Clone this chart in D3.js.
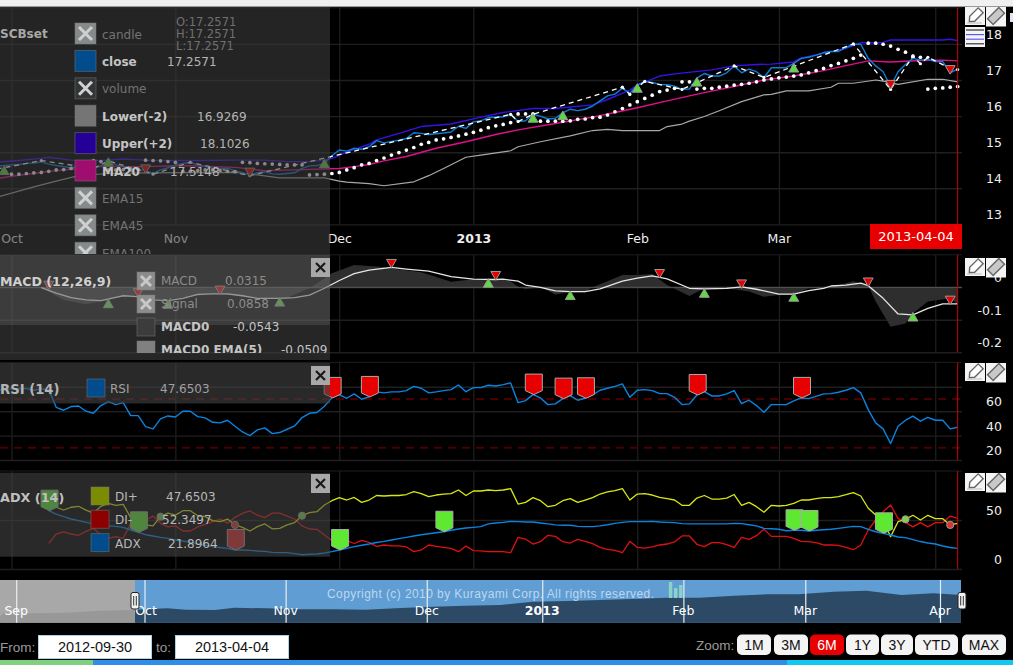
<!DOCTYPE html>
<html>
<head>
<meta charset="utf-8">
<title>SCBset</title>
<script src="https://cdn.jsdelivr.net/npm/d3@7"></script>
<style>
  html, body { margin: 0; padding: 0; background: #000; overflow: hidden; }
  svg { display: block; }
  text { font-family: "DejaVu Sans", sans-serif; font-size: 12px; }
  .tick text { fill: #eee; }
  .ui text { font-family: "Liberation Sans", sans-serif; }
</style>
</head>
<body>
<svg id="chart" width="1013" height="665"></svg>
<script>
// sessions are counted from 1 Oct 2012 = 0
const monthDays = [0, 22, 44, 62, 84, 103, 124];
const monthLabels = ["Oct", "Nov", "Dec", "2013", "Feb", "Mar", ""]; // Apr sits behind the date box

// price panel, one value per session starting at session -2
const close = [14.62,14.63,14.65,14.66,14.69,14.70,14.73,14.67,14.63,14.60,14.57,14.60,14.55,14.55,14.63,14.74,14.65,14.60,14.55,14.53,14.49,14.41,14.51,14.57,14.65,14.69,14.72,14.65,14.60,14.57,14.55,14.55,14.49,14.43,14.37,14.43,14.46,14.40,14.39,14.41,14.43,14.55,14.62,14.63,14.69,14.90,15.06,15.03,15.11,15.08,15.15,15.32,15.26,15.30,15.33,15.38,15.54,15.52,15.49,15.51,15.53,15.56,15.72,15.66,15.84,15.87,15.96,15.97,15.98,16.05,15.85,15.87,16.05,16.00,15.92,15.94,16.09,16.19,16.15,16.19,16.28,16.42,16.56,16.61,16.77,16.63,16.86,16.96,16.93,16.88,16.87,16.83,16.74,16.75,17.05,17.18,17.11,17.11,17.20,17.39,17.20,17.30,17.23,17.07,17.34,17.34,17.34,17.46,17.60,17.63,17.69,17.76,17.79,17.79,17.90,17.99,17.99,17.60,17.39,17.23,16.82,17.23,17.43,17.60,17.55,17.57,17.51,17.51,17.20,17.30];

const upperDays = [-2,1,4,5,8,12,15,18,21,25,30,34,37,40,42,43,45,48,49,52,55,59,63,66,70,73,78,80,83,84,87,89,94,97,100,102,105,106,110,112,114,117,118,125,126,127];
const upper = [14.72,14.77,14.83,14.86,14.78,14.77,14.81,14.78,14.77,14.77,14.78,14.78,14.74,14.74,14.78,14.83,15.0,15.22,15.34,15.52,15.71,15.78,15.97,16.10,16.21,16.21,16.31,16.46,16.72,16.86,17.11,17.17,17.28,17.39,17.43,17.44,17.50,17.61,17.78,17.88,18.03,18.04,18.11,18.11,18.13,18.09];

const maDays = [-2,1,3,5,9,12,18,23,30,34,38,44,46,48,50,53,57,61,65,68,74,78,81,84,88,91,93,97,101,105,109,112,115,118,122,125,127];
const ma20 = [14.27,14.36,14.41,14.47,14.55,14.60,14.60,14.63,14.58,14.49,14.51,14.55,14.60,14.66,14.76,14.88,15.11,15.29,15.49,15.62,15.83,15.97,16.10,16.23,16.42,16.56,16.65,16.82,17.00,17.11,17.26,17.40,17.53,17.50,17.54,17.55,17.53];

const lowerDays = [-2,3,6,9,13,18,30,33,36,42,44,45,48,50,54,56,58,61,63,67,68,71,75,78,80,82,87,88,90,91,93,95,98,101,102,104,107,110,111,113,116,117,119,123,125,127];
const lower = [13.75,14.04,14.20,14.35,14.41,14.43,14.44,14.37,14.29,14.29,14.20,14.17,14.13,14.07,14.18,14.35,14.55,14.86,14.92,15.04,15.15,15.29,15.45,15.60,15.63,15.60,15.60,15.71,15.78,15.86,15.99,16.15,16.40,16.59,16.60,16.70,16.70,16.80,16.91,16.91,17.00,16.97,16.88,17.02,17.02,16.95];

const zigzagDays = [-2,4,11,13,19,24,32,67,68,70,82,83,85,90,97,101,113,118,121,122,123,126,127];
const zigzag = [14.53,14.77,14.55,14.76,14.39,14.72,14.35,16.05,15.85,16.05,16.80,16.60,16.96,16.74,17.39,17.07,18.00,16.74,17.66,17.45,17.63,17.32,17.29];

const sarDays = [0,1,2,3,4,5,6,7,8,9,10,11,12,13,14,15,16,17,18,19,20,21,22,23,24,25,26,27,28,29,30,31,32,33,34,35,36,37,38,39,40,41,42,43,44,45,46,47,48,49,50,51,52,53,54,55,56,57,58,59,60,61,62,63,64,65,66,67,68,69,70,71,72,73,74,75,76,77,78,79,80,81,82,83,84,85,86,87,88,89,90,91,92,93,94,95,96,97,98,99,100,101,102,103,104,105,106,107,108,109,110,111,112,113,114,115,116,117,118,119,120,121,122,123,124,125,126,127];
const sar = [14.39,14.39,14.41,14.43,14.44,14.47,14.51,14.52,14.55,14.55,14.55,14.77,14.74,14.51,14.51,14.52,14.51,14.53,14.78,14.77,14.76,14.74,14.72,14.47,14.47,14.49,14.51,14.51,14.49,14.47,14.46,14.72,14.71,14.69,14.68,14.67,14.66,14.65,14.65,14.65,14.37,14.38,14.39,14.41,14.44,14.51,14.57,14.65,14.69,14.77,14.84,14.92,14.99,15.06,15.13,15.22,15.27,15.34,15.37,15.41,15.45,15.50,15.55,15.61,15.68,15.73,15.77,15.82,16.06,16.06,16.06,15.86,15.86,15.86,15.86,15.87,15.91,15.92,15.96,15.97,16.03,16.12,16.21,16.31,16.40,16.49,16.58,16.68,16.72,16.77,16.95,16.95,16.75,16.77,16.77,16.80,16.83,16.86,16.88,16.91,16.95,17.00,17.03,17.06,17.08,17.11,17.14,17.20,17.26,17.32,17.40,17.46,17.53,17.60,17.69,18.02,18.02,17.99,17.94,17.85,17.77,17.66,17.63,16.75,16.77,16.78,16.80,16.82];

const buyDays = [-1,13,42,70,74,84,92,105];
const buyPrices = [14.46,14.69,14.65,15.91,15.98,16.74,16.91,17.30];
const sellDays = [18,32,118,126];
const sellPrices = [14.57,14.48,16.91,17.32];

// MACD panel
const macdDays = [4,6,8,10,12,14,15,17,19,21,23,25,27,29,31,33,36,38,40,42,44,46,48,51,53,56,59,62,65,66,68,69,71,73,75,77,79,82,84,86,88,91,93,96,98,100,103,105,107,109,110,112,114,115,117,119,121,123,125,127];
const macd = [-0.001,-0.018,-0.032,-0.039,-0.041,-0.031,-0.026,-0.029,-0.039,-0.041,-0.034,-0.022,-0.020,-0.020,-0.026,-0.034,-0.034,-0.032,-0.024,-0.003,0.021,0.042,0.053,0.061,0.056,0.050,0.033,0.025,0.024,0.025,0.019,0.007,0,-0.011,-0.013,-0.013,-0.005,0.019,0.028,0.035,0.026,-0.003,-0.005,-0.003,0.001,-0.006,-0.021,-0.021,-0.010,-0.003,0.004,0.007,0.013,0.005,-0.034,-0.082,-0.085,-0.065,-0.051,-0.051];
const macd0Days = [4,7,10,13,15,17,19,23,27,30,34,37,40,43,46,49,55,59,62,65,67,68,69,71,73,75,77,78,80,82,84,86,88,91,93,96,99,101,103,105,107,110,113,115,116,118,120,121,123,126,127];
const macd0 = [-0.001,-0.039,-0.052,-0.039,-0.027,-0.024,-0.039,-0.032,-0.020,-0.026,-0.034,-0.032,-0.003,0.043,0.069,0.064,0.046,0.017,0.025,0.026,0.019,0.002,-0.006,0,-0.022,-0.015,-0.015,0,0.019,0.038,0.038,0.041,0.007,-0.027,-0.003,-0.003,-0.013,-0.029,-0.024,-0.022,-0.003,0,0.019,0.005,-0.044,-0.121,-0.111,-0.080,-0.044,-0.034,-0.051];
const macdUpDays = [13,21,36,64,75,93,105,121];
const macdUpValues = [-0.054,-0.056,-0.049,0.009,-0.029,-0.022,-0.034,-0.095];
const macdDownDays = [5,17,28,51,65,87,98,115,126];
const macdDownValues = [0.010,-0.013,-0.005,0.077,0.040,0.046,0.014,0.020,-0.036];

// RSI panel, one value per session starting at session -2
const rsi = [77.5,77.7,78.3,78.5,78.5,77.2,78.3,77.7,63.2,60.8,63.8,64.3,60,58.3,64.6,67.9,65.4,67,56.4,56.4,47.4,45.5,53.7,56.1,55.3,60,60,55.6,54.5,50.9,50.4,52.6,47.7,43,40,44.7,46.3,41.6,42.5,45.2,47.9,54.8,58.3,58.9,64,70.9,73.6,70.6,74.2,69.8,71.7,75.8,75,75.8,75.8,76.9,80.4,78.8,75,75.8,76.9,77.7,81.5,76,79.3,79.3,81.3,80.7,81.8,83.2,67,68.7,73.6,70.9,65.4,66,70.3,72.8,69,70.6,73.3,77.2,78.8,80.4,82.4,71.4,77.2,77.7,76.9,74.4,74.4,71.4,65.4,66,73.3,76.1,72.5,72.5,74.2,76.9,66.2,69,64.6,59.1,65.4,65.4,65.4,68.4,70.9,70.3,72.2,74.2,74.4,75.5,77.2,79.3,75,61.3,50.4,45.5,33.5,47.7,52.6,55.9,51.8,55,52.6,52.6,45.5,46.8];
const rsiStart = -2;
const rsiFlagDays = [43,48,70,74,77,92,106];

// ADX panel, one value per session starting at session 5
const diPlus = [64,63,60.2,63,64,60,57,64,67,65,66,52.4,52.4,45,44,53.4,57,55,59.5,59.5,54.4,53.4,49.3,48.3,51,45,42.5,38.8,43.2,46,41,41.5,45,47.3,54.4,57.5,58.5,65.3,69.7,72.8,70.4,73,68,70.4,75,74.5,75,75,76,79,77,73.8,75.5,76.5,77,80.6,75,79.6,79.6,80.6,80,80.6,82,66.3,68,72.8,69.7,63.6,65,69.7,71.8,68,70.4,72.8,76.5,78.6,80,82,70.4,76.5,77,75.5,73,71.8,70.4,65,65,72.4,75,71.4,71.4,72.4,76,65,68,63.6,58,65,64.3,65,67,70.4,70.4,71.8,72.8,72.8,73.8,75.8,78,74.5,62,55,50,33,48.3,50.7,54.8,50,54.8,51.4,51.4,45,46.6];
const diMinus = [26.2,35.7,38,35.7,34.4,38.4,41.5,34.7,31.3,33,31.3,46.6,45,50,54,46.6,43,44,38.8,38.8,43,45.6,48.3,51,46.6,52.7,56.8,59.2,55,52.4,57,57,54,51,44,40.8,40.5,34.7,29,28,29,26,29.3,27.2,23,24.5,23.5,23.5,22.5,17.7,19.4,24.5,23,22,21,17.7,23.5,18.7,18.4,17.7,17.7,17.7,16.7,32.3,30.6,25.5,27.9,34.4,33.3,27.9,26.5,30.3,28.2,25.9,22,20,19,16.7,28.2,22,21.4,22.5,24.5,25.5,27.6,33.7,33.7,25.2,22.8,26.9,26.9,24.8,22,32.3,30.3,34,40.5,33.3,33.3,33.3,31.3,28.2,27.9,26.9,24.5,24.5,24.2,22,19.7,24.5,39.8,50,58.5,65.3,51.7,47.6,43,47.3,43,47.3,47.3,54,51.7];
const adx = [59.5,56,53.4,51,49.3,47.6,46,44.6,44,43.5,42.5,39.8,37.4,35,33.7,32.3,31.3,29.6,28.6,27.2,25.5,24.2,22.8,22,21,19.4,19.4,19,18.4,18,17,16.7,16.7,15.7,14.6,15,15.3,16.3,17.7,19.4,21,22.8,24.2,25.5,27,28.2,29.6,31,32.3,33.7,35,36,37,38,39.5,40.8,41.8,42.5,43.2,46,47,47.6,48.6,48.3,48,48,47,46,45,44.6,44.6,43.5,43.2,43.2,44,45.2,46.6,47.6,48.3,48.3,48.3,48.6,48,47.6,47.3,46.3,46,46,46,46,46,46,46.6,46.3,45.2,44,41.5,41,40.5,39,39.5,39.5,38.8,39.5,40,40.5,41.5,42.5,43.5,43.2,40.5,38,36.4,34.7,32.7,32,30,28,26.5,25.5,23.5,22,21];
const adxStart = 5;
const adxGreenFlagDays = [5,17,44,58,105,107,117];
const adxRedFlagDays = [30];
const crossUpDays = [20,39,120];
const crossDownDays = [30,117,126];

// navigator, overview of the close since September
const navDays = [-22.5,-22,-17,-12,-7,-2,3.5,6.5,11,14,19,24,29.5,34.5,40,45,50,55.5,60.5,66,71,76,81.5,86.5,92,97,102,107.5,112.5,118,123,127.5];
const navClose = [13.03,13.68,13.68,13.82,14.2,14.34,14.67,14.4,14.34,14.8,14.67,14.47,14.47,14.4,14.74,15,15.2,15.33,15.99,16.12,16.3,16.5,16.77,16.77,17.17,17.43,17.43,17.96,18.15,17.3,17.63,17.3];
const navMonthDays = [-20, 0, 22, 44, 62, 84, 103, 124];
const navMonthLabels = ["Sep", "Oct", "Nov", "Dec", "2013", "Feb", "Mar", "Apr"];
const navVolDays = [82, 82.8, 83.6];
const navVol = [16, 10, 13];

// legend texts
const priceLegendNames = ["candle", "close", "volume", "Lower(-2)", "Upper(+2)", "MA20", "EMA15", "EMA45", "EMA100"];
const priceLegendValues = ["", "17.2571", "", "16.9269", "18.1026", "17.5148", "", "", ""];
const ohlcLines = ["O:17.2571", "H:17.2571", "L:17.2571"];
const macdLegendNames = ["MACD", "Signal", "MACD0", "MACD0 EMA(5)"];
const macdLegendValues = ["0.0315", "0.0858", "-0.0543", "-0.0509"];
const adxLegendNames = ["DI+", "DI-", "ADX"];
const adxLegendValues = ["47.6503", "52.3497", "21.8964"];
const rangeButtons = ["1M", "3M", "6M", "1Y", "3Y", "YTD", "MAX"];

const svg = d3.select("#chart");
const plotRight = 962;
const lastDay = 127;

const x = d3.scaleLinear().domain([0, 127]).range([11.5, 957.65]);
const yPrice = d3.scaleLinear().domain([13, 19]).range([224.4, 7.8]);
const yMacd = d3.scaleLinear().domain([-0.2, 0.1]).range([352.3, 254.8]);
const yRsi = d3.scaleLinear().domain([20, 100]).range([460, 362.4]);
const yAdx = d3.scaleLinear().domain([0, 100]).range([569, 471]);
const xNav = d3.scaleLinear().domain([0, 124]).range([144.5, 940]);
const yNav = d3.scaleLinear().domain([11.84, 20.26]).range([622.7, 580]);
const yNavVol = d3.scaleLinear().domain([0, 16]).range([598, 582]);

const gridColor = "#1f1f1f";

svg.append("rect").attr("width", 1013).attr("height", 665).attr("fill", "#000");

// grid + right axis for one panel
function drawGrid(scale, ticks, fmt) {
  const g = svg.append("g");
  const top = scale.range()[1], bottom = scale.range()[0];

  const v = g.append("g").attr("transform", `translate(0,${bottom})`)
    .call(d3.axisBottom(x).tickValues(monthDays).tickSize(bottom - top)
      .tickFormat(""));
  v.selectAll("line").attr("y2", -(bottom - top)).attr("stroke", "#262626");
  v.select(".domain").remove();

  const h = g.append("g").attr("transform", `translate(${plotRight},0)`)
    .call(d3.axisRight(scale).tickValues(ticks).tickSize(-plotRight).tickFormat(fmt));
  h.select(".domain").remove();
  h.selectAll("line").attr("stroke", gridColor).attr("stroke-width", 1.4);
  h.selectAll("text").attr("x", 40).attr("y", -9.5).attr("text-anchor", "end")
    .style("font-size", "12.5px");

  g.append("line").attr("x1", 0).attr("x2", plotRight).attr("y1", top).attr("y2", top)
    .attr("stroke", "#1f1f1f");
  return g;
}

drawGrid(yPrice, [13, 14, 15, 16, 17, 18], d3.format("d"));
drawGrid(yMacd, [-0.2, -0.1, 0], d => d === 0 ? "0" : d3.format(".1f")(d).replace("\u2212", "-"));
drawGrid(yRsi, [20, 40, 60, 80], d3.format("d"));
drawGrid(yAdx, [0, 50], d3.format("d"));

// month labels under the price panel
const monthAxis = svg.append("g").attr("transform", "translate(0,224.4)")
  .call(d3.axisBottom(x).tickValues(monthDays).tickSize(0).tickPadding(9.5)
    .tickFormat((d, i) => monthLabels[i]));
monthAxis.select(".domain").remove();
monthAxis.selectAll("text").style("font-size", "12.5px")
  .style("font-weight", (d, i) => monthLabels[i] === "2013" ? "bold" : "normal");

function lineOf(xs, ys, scale, color, width, dash) {
  const line = d3.line().x((d, i) => x(xs[i])).y(d => scale(d));
  return svg.append("path").attr("d", line(ys)).attr("fill", "none")
    .attr("stroke", color).attr("stroke-width", width)
    .attr("stroke-linejoin", "round").attr("stroke-dasharray", dash || null);
}
const daysFrom = (start, arr) => arr.map((_, i) => start + i);

// price series
lineOf(lowerDays, lower, yPrice, "#a8a8a8", 1.2);
lineOf(maDays, ma20, yPrice, "#e0108c", 1.4);
lineOf(upperDays, upper, yPrice, "#3a10e8", 1.4);
lineOf(daysFrom(-2, close), close, yPrice, "#0a7fd8", 1.4);
lineOf(zigzagDays, zigzag, yPrice, "#fff", 1.3, "5,4");
svg.append("g").selectAll("circle").data(zigzag).join("circle")
  .attr("cx", (d, i) => x(zigzagDays[i])).attr("cy", d => yPrice(d)).attr("r", 1.6).attr("fill", "#fff");
svg.append("g").selectAll("circle").data(sar).join("circle")
  .attr("cx", (d, i) => x(sarDays[i])).attr("cy", d => yPrice(d)).attr("r", 1.85).attr("fill", "#fff");

const triangle = d3.symbol(d3.symbolTriangle, 42);
function triangles(days, values, scale, up) {
  svg.append("g").selectAll("path").data(values).join("path")
    .attr("d", triangle)
    .attr("transform", (d, i) => `translate(${x(days[i])},${scale(d)}) rotate(${up ? 0 : 180})`)
    .attr("fill", up ? "#5cdc3c" : "#e80000")
    .attr("stroke", "#9a9a9a").attr("stroke-width", 1);
}
triangles(buyDays, buyPrices, yPrice, true);
triangles(sellDays, sellPrices, yPrice, false);

// MACD series
const macdArea = d3.area().x((d, i) => x(macd0Days[i])).y0(yMacd(0)).y1(d => yMacd(d));
svg.append("path").attr("d", macdArea(macd0)).attr("fill", "#2e2e2e");
svg.append("line").attr("x1", 0).attr("x2", plotRight).attr("y1", yMacd(0)).attr("y2", yMacd(0))
  .attr("stroke", "#5a5a5a").attr("stroke-width", 1);
lineOf(macdDays, macd, yMacd, "#e6e6e6", 1.3);
triangles(macdUpDays, macdUpValues, yMacd, true);
triangles(macdDownDays, macdDownValues, yMacd, false);

// RSI series
[30, 70].forEach(level => {
  svg.append("line").attr("x1", 0).attr("x2", plotRight)
    .attr("y1", yRsi(level)).attr("y2", yRsi(level))
    .attr("stroke", "#4a0000").attr("stroke-width", 2).attr("stroke-dasharray", "8,6");
});
lineOf(daysFrom(rsiStart, rsi), rsi, yRsi, "#0a84e0", 1.4);

function flags(days, yAt, fill) {
  svg.append("g").selectAll("path").data(days).join("path")
    .attr("d", "M0,0L-8.5,-4V-20.5H8.5V-4Z")
    .attr("transform", d => `translate(${x(d) + 0.8},${yAt(d)})`)
    .attr("fill", fill).attr("stroke", "#aaa").attr("stroke-width", 1);
}
flags(rsiFlagDays, d => yRsi(rsi[d - rsiStart]), "#e80000");

// ADX series
lineOf(daysFrom(adxStart, diMinus), diMinus, yAdx, "#e01010", 1.3);
lineOf(daysFrom(adxStart, diPlus), diPlus, yAdx, "#d8e810", 1.3);
lineOf(daysFrom(adxStart, adx), adx, yAdx, "#0a84e0", 1.4);
function crossDots(days, fill) {
  svg.append("g").selectAll("circle").data(days).join("circle")
    .attr("cx", d => x(d)).attr("cy", d => yAdx(diPlus[d - adxStart])).attr("r", 3.6)
    .attr("fill", fill).attr("stroke", "#999");
}
crossDots(crossUpDays, "#7ed050");
crossDots(crossDownDays, "#e03030");
flags(adxGreenFlagDays, d => yAdx(adx[d - adxStart]), "#5ee832");
flags(adxRedFlagDays, d => yAdx(adx[d - adxStart]), "#d82828");

// cursor line at the last session
[yPrice, yMacd, yRsi, yAdx].forEach(s => {
  svg.append("line").attr("x1", x(lastDay)).attr("x2", x(lastDay))
    .attr("y1", s.range()[1]).attr("y2", s.range()[0])
    .attr("stroke", "#d00000").attr("stroke-width", 1);
});
svg.append("rect").attr("x", 870).attr("y", 224).attr("width", 92).attr("height", 25).attr("fill", "#e80000");
svg.append("text").attr("x", 916).attr("y", 241).attr("text-anchor", "middle")
  .attr("fill", "#fff").style("font-size", "13px").text("2013-04-04");

// translucent legend panels over the plots
function overlay(y, h, fill) {
  svg.append("rect").attr("x", 0).attr("y", y).attr("width", 330).attr("height", h).attr("fill", fill);
}
overlay(7, 248, "rgba(60,60,60,0.6)");
overlay(255, 70, "rgba(100,100,100,0.6)");
overlay(325, 35, "rgba(64,64,64,0.6)");
overlay(363, 40.5, "rgba(68,68,68,0.6)");
overlay(472.7, 84, "rgba(68,68,68,0.6)");

svg.append("clipPath").attr("id", "priceClip").append("rect").attr("width", 330).attr("height", 254);
svg.append("clipPath").attr("id", "macdClip").append("rect").attr("y", 255).attr("width", 330).attr("height", 98);

function swatch(g, bx, by, size, fill, crossed, crossColor) {
  g.append("rect").attr("x", bx).attr("y", by).attr("width", size).attr("height", size)
    .attr("fill", fill).attr("stroke", "rgba(120,120,120,0.5)");
  if (crossed) {
    const p = 4;
    g.append("path")
      .attr("d", `M${bx + p},${by + p}L${bx + size - p},${by + size - p}M${bx + size - p},${by + p}L${bx + p},${by + size - p}`)
      .attr("stroke", crossColor).attr("stroke-width", 3);
  }
}
function label(g, tx, ty, str, color, weight, size) {
  return g.append("text").attr("x", tx).attr("y", ty).attr("fill", color)
    .style("font-weight", weight || "normal").style("font-size", size || null).text(str);
}

// price legend
const priceLegend = svg.append("g").attr("clip-path", "url(#priceClip)");
label(priceLegend, 0, 38, "SCBset", "#a8a8a8", "bold");
const priceFills = ["#858a8a", "#004c8c", "#333636", "#757575", "#240096", "#a00d6e", "#858a8a", "#858a8a", "#858a8a"];
const priceCrossed = [true, false, true, false, false, false, true, true, true];
const priceValueX = [0, 167, 0, 197, 200, 170, 0, 0, 0];
priceLegendNames.forEach((name, i) => {
  const cy = 34 + i * 27.4;
  swatch(priceLegend, 75, cy - 11, 21, priceFills[i], priceCrossed[i], "#d0d0d0");
  label(priceLegend, 102, cy + 4.5, name, priceCrossed[i] ? "#737373" : "#c4c4c4", priceCrossed[i] ? "normal" : "bold");
  if (priceLegendValues[i]) label(priceLegend, priceValueX[i], cy + 4.5, priceLegendValues[i], "#b4b4b4");
});
ohlcLines.forEach((t, i) => label(priceLegend, 176, 26 + i * 12, t, "#707070", "normal", "11.5px"));

// MACD legend
const macdLegend = svg.append("g").attr("clip-path", "url(#macdClip)");
label(macdLegend, 0, 286, "MACD (12,26,9)", "#d0d0d0", "bold", "12.6px");
const macdFills = ["#8c8c8c", "#8c8c8c", "#3c3c3c", "#808080"];
const macdValueX = [225, 227, 233, 281];
macdLegendNames.forEach((name, i) => {
  const cy = 281 + i * 23;
  swatch(macdLegend, 137, cy - 9, 18, macdFills[i], i < 2, "#c8c8c8");
  label(macdLegend, 161, cy + 4, name, i < 2 ? "#8c8c8c" : "#c4c4c4", i < 2 ? "normal" : "bold");
  label(macdLegend, macdValueX[i], cy + 4, macdLegendValues[i], i < 2 ? "#8c8c8c" : "#c4c4c4");
});

// RSI legend
const rsiLegend = svg.append("g");
label(rsiLegend, 0, 394, "RSI (14)", "#b4b4b4", "bold", "13.2px");
swatch(rsiLegend, 87, 379, 18, "#004c8c");
label(rsiLegend, 110, 393, "RSI", "#a0a0a0");
label(rsiLegend, 160, 393, "47.6503", "#a0a0a0");

// ADX legend
const adxLegendG = svg.append("g");
label(adxLegendG, 0, 502, "ADX (14)", "#c0c0c0", "bold", "12.8px");
const adxFills = ["#7c8c00", "#8c0000", "#004c8c"];
const adxValueX = [166, 162, 168];
adxLegendNames.forEach((name, i) => {
  const cy = 496 + i * 23.3;
  swatch(adxLegendG, 91, cy - 9, 18, adxFills[i]);
  label(adxLegendG, 115, cy + 5, name, "#b8b8b8");
  label(adxLegendG, adxValueX[i], cy + 5, adxLegendValues[i], "#b8b8b8");
});

// close buttons on the legends
[258, 366, 474].forEach(by => {
  svg.append("rect").attr("x", 311).attr("y", by).attr("width", 19).attr("height", 19).attr("fill", "#a8a8a8");
  svg.append("path")
    .attr("d", `M316,${by + 5}L325,${by + 14}M325,${by + 5}L316,${by + 14}`)
    .attr("stroke", "#1a1a1a").attr("stroke-width", 2.2);
});

// pencil / eraser buttons on the right
function toolIcon(bx, by, h, eraser) {
  svg.append("rect").attr("x", bx).attr("y", by).attr("width", 20).attr("height", h).attr("fill", "#f4f4f4");
  const g = svg.append("g").attr("transform", `translate(${bx + 10},${by + 9}) rotate(-45)`);
  g.append("path").attr("d", eraser ? "M-8,-4H8V4H-8Z" : "M-8,0L-4,-3.5H8V3.5H-4Z")
    .attr("fill", eraser ? "#c8c8c8" : "#fff").attr("stroke", "#666").attr("stroke-width", 1.4);
  if (!eraser) svg.append("line").attr("x1", bx + 2).attr("x2", bx + 17).attr("y1", by + h - 2).attr("y2", by + h - 2)
    .attr("stroke", "#bbb");
}
[7, 258, 363, 473].forEach(by => {
  toolIcon(965, by, 18, false);
  toolIcon(986, by, 19.5, true);
});
svg.append("rect").attr("x", 965).attr("y", 27).attr("width", 20).attr("height", 20).attr("fill", "#f4f4f4");
["#333", "#5a5af0", "#5a5af0", "#333"].forEach((c, i) => {
  svg.append("line").attr("x1", 966).attr("x2", 984)
    .attr("y1", 30 + i * 4.6).attr("y2", 30 + i * 4.6).attr("stroke", c).attr("stroke-width", 1.2);
});
svg.append("rect").attr("x", 1010).attr("y", 13).attr("width", 3).attr("height", 9).attr("fill", "#dde6f4");

// navigator
const nav = svg.append("g");
nav.append("rect").attr("x", 0).attr("y", 580).attr("width", 135).attr("height", 42.7).attr("fill", "#a8a8a8");
nav.append("rect").attr("x", 135).attr("y", 580).attr("width", 826).attr("height", 42.7).attr("fill", "#5f9dd2");
const navArea = d3.area().x((d, i) => xNav(navDays[i])).y0(622.7).y1(d => yNav(d));
nav.append("clipPath").attr("id", "navGrey").append("rect").attr("x", 0).attr("y", 580).attr("width", 135).attr("height", 43);
nav.append("clipPath").attr("id", "navBlue").append("rect").attr("x", 135).attr("y", 580).attr("width", 826).attr("height", 43);
nav.append("path").attr("d", navArea(navClose)).attr("fill", "#989898").attr("clip-path", "url(#navGrey)");
nav.append("path").attr("d", navArea(navClose)).attr("fill", "#2c4a66").attr("clip-path", "url(#navBlue)");
nav.append("g").selectAll("rect").data(navVol).join("rect")
  .attr("x", (d, i) => xNav(navVolDays[i]) - 1.7).attr("width", 3.4)
  .attr("y", d => yNavVol(d)).attr("height", d => yNavVol(0) - yNavVol(d))
  .attr("fill", "#8fd0c8");
nav.append("text").attr("x", 327).attr("y", 598).attr("fill", "#bcd8f0")
  .attr("textLength", 327).attr("lengthAdjust", "spacing")
  .style("font-family", "Liberation Sans").style("font-size", "12px")
  .text("Copyright (c) 2010 by Kurayami Corp. All rights reserved.");
const navAxis = nav.append("g").attr("transform", "translate(0,622.7)")
  .call(d3.axisTop(xNav).tickValues(navMonthDays).tickSize(42.7).tickPadding(0)
    .tickFormat(""));
navAxis.select(".domain").remove();
navAxis.selectAll("line").attr("stroke", "#e8eef4").attr("stroke-width", 1.2);
navMonthDays.forEach((d, i) => {
  nav.append("text").attr("x", xNav(d) + (d === 0 ? 1.5 : 0)).attr("y", 615).attr("text-anchor", "middle")
    .attr("fill", "#fff").style("font-size", "12.5px")
    .style("font-weight", navMonthLabels[i] === "2013" ? "bold" : "normal")
    .text(navMonthLabels[i]);
});
[135, 962].forEach(hx => {
  nav.append("rect").attr("x", hx - 4).attr("y", 592.5).attr("width", 8).attr("height", 16.5).attr("rx", 2)
    .attr("fill", "#f2f2f2").attr("stroke", "#222");
  nav.append("path").attr("d", `M${hx - 1.3},596V605.5M${hx + 1.3},596V605.5`).attr("stroke", "#333").attr("stroke-width", 1);
});

// range inputs and buttons
const ui = svg.append("g").attr("class", "ui");
ui.append("text").attr("x", 0).attr("y", 652).attr("fill", "#9a9a9a").style("font-size", "13.5px").text("From:");
ui.append("text").attr("x", 156).attr("y", 652).attr("fill", "#9a9a9a").style("font-size", "13.5px").text("to:");
[[38, "2012-09-30"], [175, "2013-04-04"]].forEach(([bx, t]) => {
  ui.append("rect").attr("x", bx + 0.5).attr("y", 635.5).attr("width", 113).attr("height", 23)
    .attr("fill", "#fff").attr("stroke", "#a8d4ec");
  ui.append("text").attr("x", bx + 57).attr("y", 652).attr("text-anchor", "middle")
    .attr("fill", "#111").style("font-size", "14.5px").text(t);
});
ui.append("text").attr("x", 696).attr("y", 650).attr("fill", "#9a9a9a").style("font-size", "13.5px").text("Zoom:");
const buttonX = [737, 774, 810, 846, 881, 915, 962];
const buttonW = [34, 34, 34, 33, 32, 43, 44];
rangeButtons.forEach((t, i) => {
  const active = t === "6M";
  ui.append("rect").attr("x", buttonX[i]).attr("y", 634.5).attr("width", buttonW[i]).attr("height", 20.5).attr("rx", 5)
    .attr("fill", active ? "#e80000" : "#f4f4f4");
  ui.append("text").attr("x", buttonX[i] + buttonW[i] / 2).attr("y", 650).attr("text-anchor", "middle")
    .attr("fill", active ? "#fff" : "#111").style("font-size", "14px").text(t);
});

// window chrome around the capture
svg.append("rect").attr("width", 1013).attr("height", 6).attr("fill", "#f0f0f0");
svg.append("rect").attr("y", 6).attr("width", 1013).attr("height", 1).attr("fill", "#9a9a9a");
svg.append("rect").attr("y", 660).attr("width", 787).attr("height", 5).attr("fill", "#2f8fe8");
svg.append("rect").attr("x", 787).attr("y", 660).attr("width", 226).attr("height", 5).attr("fill", "#10c8f0");
svg.append("rect").attr("y", 660).attr("width", 93).attr("height", 5).attr("fill", "#7fd07f");
</script>
</body>
</html>
